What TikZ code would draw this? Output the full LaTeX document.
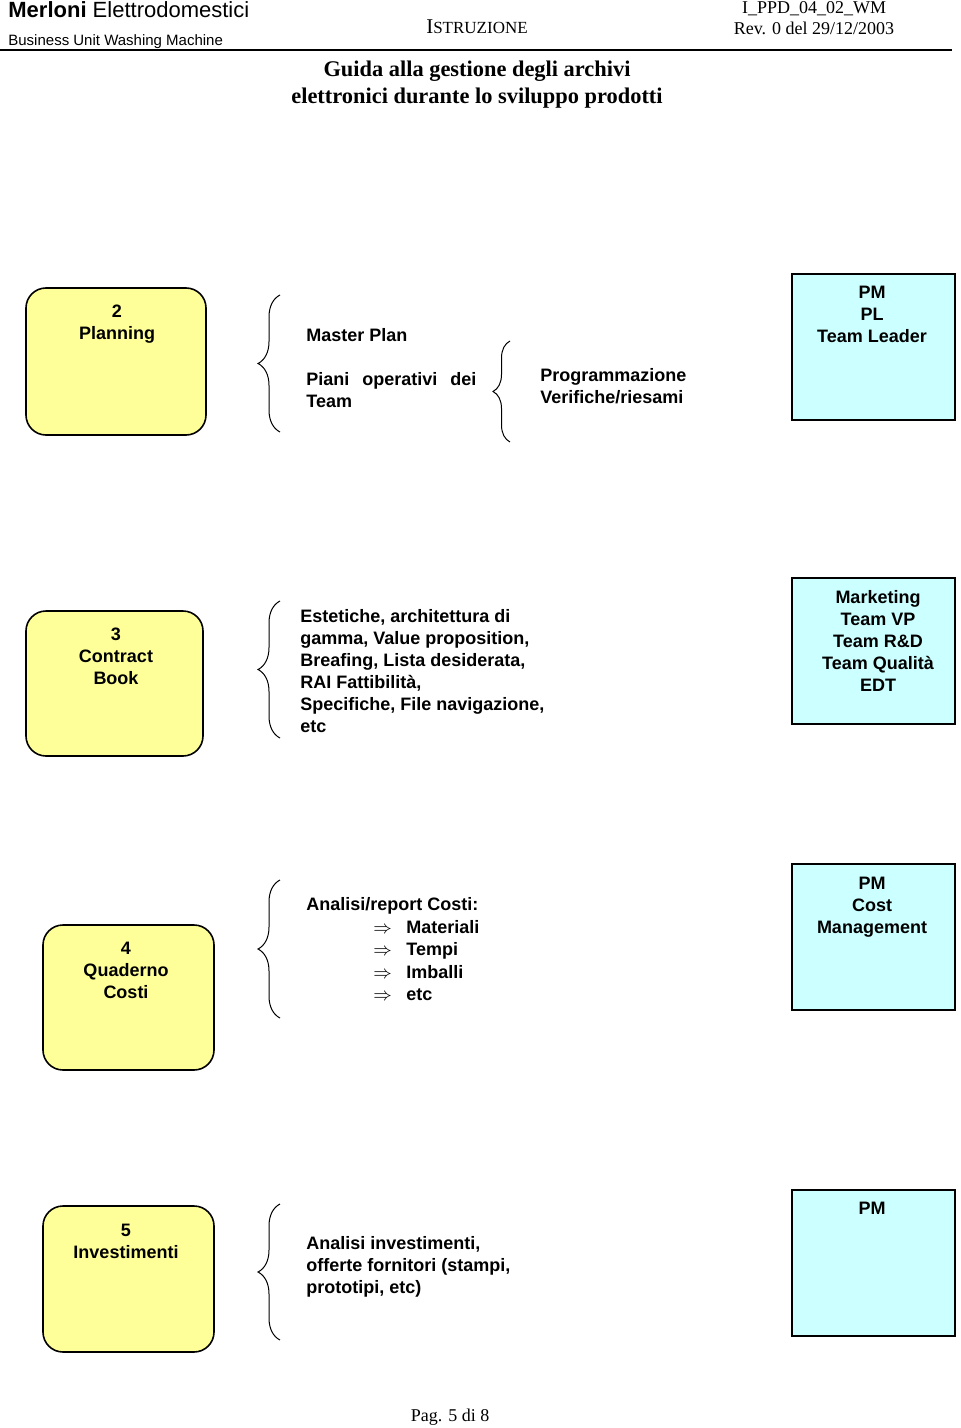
\documentclass[tikz,border=0pt]{standalone}
\usepackage{fontspec}
\setmainfont{Liberation Serif}
\setsansfont{Liberation Sans}
\usetikzlibrary{decorations.pathreplacing,positioning}
\definecolor{boxyellow}{RGB}{255,255,153}
\definecolor{boxcyan}{RGB}{204,255,255}
\tikzset{
	phase/.style={draw, line width=0.8pt, fill=boxyellow, rounded corners=10pt},
	owner/.style={draw, line width=0.8pt, fill=boxcyan},
	lbl/.style={font=\sffamily\bfseries\fontsize{9}{11}\selectfont, inner sep=0pt, align=center, anchor=north},
	note/.style={font=\sffamily\bfseries\fontsize{9}{11}\selectfont, inner sep=0pt, align=left, anchor=north west},
	curly/.style={decorate, decoration={brace, amplitude=#1}, line width=0.5pt},
	curly/.default=11pt,
}
\begin{document}
\begin{tikzpicture}[x=0.5pt, y=-0.5pt]

	\useasboundingbox (0,0) rectangle (960,1428);

	% header
	\node[anchor=base west, inner sep=0pt, font=\sffamily\fontsize{11}{13}\selectfont] (firm) at (8,18) {\textbf{Merloni} Elettrodomestici};
	\node[anchor=base west, inner sep=0pt, font=\sffamily\fontsize{7.5}{9}\selectfont] (unit) at (8,46) {Business Unit Washing Machine};
	\node[anchor=base, inner sep=0pt] (kind) at (477,34) {\fontsize{10.5}{12}\selectfont I\fontsize{8.5}{12}\selectfont STRUZIONE};
	\node[anchor=base, inner sep=0pt, font=\fontsize{9}{11}\selectfont] (code) at (814,14) {I\_PPD\_04\_02\_WM};
	\node[anchor=base, inner sep=0pt, font=\fontsize{9}{11}\selectfont] (rev) at (814,35) {Rev. 0 del 29/12/2003};
	\draw[line width=1pt] (0,50) -- (952,50);

	\node[anchor=base, inner sep=0pt, font=\bfseries\fontsize{11.2}{13.5}\selectfont, align=center] (title) at (477,104) {Guida alla gestione degli archivi\\elettronici durante lo sviluppo prodotti};

	% phase boxes
	\node[phase, minimum width=90pt, minimum height=73.5pt] (planning) at (116,361.5) {};
	\node[phase, minimum width=88.5pt, minimum height=72.5pt] (contract) at (114.5,683.5) {};
	\node[phase, minimum width=85.5pt, minimum height=72.5pt] (quaderno) at (128.5,997.5) {};
	\node[phase, minimum width=85.5pt, minimum height=73pt] (invest) at (128.5,1279) {};

	\node[lbl] (planning-t) at (117,304.5) {2\\Planning};
	\node[lbl] (contract-t) at (116,627.5) {3\\Contract\\Book};
	\node[lbl] (quaderno-t) at (126,941.5) {4\\Quaderno\\Costi};
	\node[lbl] (invest-t) at (126,1223.5) {5\\Investimenti};

	% owner boxes
	\node[owner, minimum width=81.5pt, minimum height=73pt] (own-a) at (873.5,347) {};
	\node[owner, minimum width=81.5pt, minimum height=73pt] (own-b) at (873.5,651) {};
	\node[owner, minimum width=81.5pt, minimum height=73pt] (own-c) at (873.5,937) {};
	\node[owner, minimum width=81.5pt, minimum height=73pt] (own-d) at (873.5,1263) {};

	\node[lbl] (own-a-t) at (872,285.5) {PM\\PL\\Team Leader};
	\node[lbl] (own-b-t) at (878,590.5) {Marketing\\Team VP\\Team R\&D\\Team Qualità\\EDT};
	\node[lbl] (own-c-t) at (872,876.5) {PM\\Cost\\Management};
	\node[lbl] (own-d-t) at (872,1201.5) {PM};

	% braces
	\draw[curly] (280,432) -- (280,295);
	\draw[curly=8.5pt] (510,442) -- (510,341);
	\draw[curly] (280,738) -- (280,601);
	\draw[curly] (280,1018) -- (280,880);
	\draw[curly] (280,1340) -- (280,1204);

	% contents
	\node[note] (master) at (306,328.5) {Master Plan};
	\node[note, text width=85pt] (piani) at (306,372.5) {Piani\hfill operativi\hfill dei\\Team};
	\node[note] (progr) at (540,368.5) {Programmazione\\Verifiche/riesami};
	\node[note] (docs) at (300,609.5) {Estetiche, architettura di\\gamma, Value proposition,\\Breafing, Lista desiderata,\\RAI Fattibilità,\\Specifiche, File navigazione,\\etc};
	\node[note, font=\sffamily\bfseries\fontsize{9}{11.25}\selectfont] (costi) at (306,897.5) {Analisi/report Costi:\\
		\hspace*{33.5pt}\makebox[16.5pt][l]{$\Rightarrow$}Materiali\\
		\hspace*{33.5pt}\makebox[16.5pt][l]{$\Rightarrow$}Tempi\\
		\hspace*{33.5pt}\makebox[16.5pt][l]{$\Rightarrow$}Imballi\\
		\hspace*{33.5pt}\makebox[16.5pt][l]{$\Rightarrow$}etc};
	\node[note] (offerte) at (306,1236.5) {Analisi investimenti,\\offerte fornitori (stampi,\\prototipi, etc)};

	\node[anchor=base, inner sep=0pt, font=\fontsize{9}{11}\selectfont] (page) at (450,1421) {Pag. 5 di 8};

\end{tikzpicture}
\end{document}
